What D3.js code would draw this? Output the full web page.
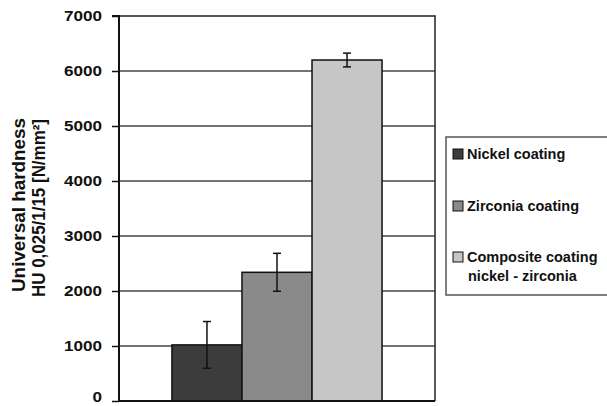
<!DOCTYPE html>
<html><head><meta charset="utf-8">
<script src="https://cdn.jsdelivr.net/npm/d3@7"></script>
<style>body{margin:0;background:#fff}svg{display:block}text{font-family:Arial,"Liberation Sans",sans-serif;font-weight:bold;fill:#111}</style>
</head><body><svg id="c" width="607" height="406"></svg>
<script>
const categories = [""];
const seriesNames = ["Nickel coating", "Zirconia coating", "Composite coating\nnickel - zirconia"];
const values = [1020, 2340, 6200];
const errors = [425, 345, 125];
const colors = ["#3c3c3c", "#8a8a8a", "#c6c6c6"];
const yTicks = [0, 1000, 2000, 3000, 4000, 5000, 6000, 7000];
const yTitle = ["Universal hardness", "HU 0,025/1/15 [N/mm²]"];

const svg = d3.select("#c");
const L = 119, R = 435, T = 16, B = 401;
const y = d3.scaleLinear().domain([0, 7000]).range([B, T]);
const x0 = d3.scaleBand().domain(categories).range([L, R]).paddingInner(0).paddingOuter(0.252);
const x1 = d3.scaleBand().domain(d3.range(values.length)).range([0, x0.bandwidth()]).padding(0);

// gridlines
svg.append("g").selectAll("line").data(yTicks.filter(d => d > 0)).join("line")
  .attr("x1", L).attr("x2", R).attr("y1", d => y(d)).attr("y2", d => y(d))
  .attr("stroke", d => d === 7000 ? "#222" : "#444").attr("stroke-width", 1.5);
// right border
svg.append("line").attr("x1", R).attr("x2", R).attr("y1", T - 0.75).attr("y2", B)
  .attr("stroke", "#222").attr("stroke-width", 1.5);

// bars
const g = svg.append("g").attr("transform", `translate(${x0(categories[0])},0)`);
g.selectAll("rect").data(values).join("rect")
  .attr("x", (d, i) => x1(i)).attr("width", x1.bandwidth())
  .attr("y", d => y(d)).attr("height", d => B - y(d))
  .attr("fill", (d, i) => colors[i]).attr("stroke", "#111").attr("stroke-width", 1.5);

// error bars
values.forEach((v, i) => {
  const cx = x1(i) + x1.bandwidth() / 2;
  const e = g.append("g").attr("stroke", "#111").attr("stroke-width", 1.5);
  e.append("line").attr("x1", cx).attr("x2", cx).attr("y1", y(v + errors[i])).attr("y2", y(v - errors[i]));
  [v + errors[i], v - errors[i]].forEach(t => e.append("line")
    .attr("x1", cx - 4).attr("x2", cx + 4).attr("y1", y(t)).attr("y2", y(t)));
});

// y axis
const ax = svg.append("g").attr("transform", `translate(${L},0)`)
  .call(d3.axisLeft(y).tickValues(yTicks).tickSize(7).tickPadding(10).tickFormat(d3.format("d")));
ax.select(".domain").attr("stroke", "#111").attr("stroke-width", 2).attr("d", `M-7,${T}H0V${B}H${R - L}`);
ax.selectAll(".tick line").attr("stroke", "#111").attr("stroke-width", 1.5);
ax.selectAll(".tick text").attr("font-size", 14).attr("font-family", "Arial, 'Liberation Sans', sans-serif")
  .attr("font-weight", "bold").attr("fill", "#111")
  .attr("textLength", d => String(d).length * 9.5).attr("lengthAdjust", "spacingAndGlyphs")
  .attr("dy", d => d === 0 ? "0.05em" : "0.32em");

// y title
const tl = [174, 178];
yTitle.forEach((t, i) => {
  svg.append("text").attr("transform", `translate(${25 + i * 20},${205 + i * 3}) rotate(-90)`)
    .attr("text-anchor", "middle").attr("font-size", 18)
    .attr("textLength", tl[i]).attr("lengthAdjust", "spacingAndGlyphs").text(t);
});

// legend
svg.append("rect").attr("x", 446).attr("y", 137).attr("width", 170).attr("height", 158)
  .attr("fill", "#fff").attr("stroke", "#555").attr("stroke-width", 1.5);
const ly = [154, 206, 257];
seriesNames.forEach((n, i) => {
  svg.append("rect").attr("x", 453).attr("y", ly[i] - 5).attr("width", 10).attr("height", 10)
    .attr("fill", colors[i]).attr("stroke", "#111").attr("stroke-width", 1);
  n.split("\n").forEach((line, j) => {
    svg.append("text").attr("x", 467 + (j ? 1 : 0)).attr("y", ly[i] + 5 + j * 19)
      .attr("font-size", 14.5).text(line);
  });
});
</script></body></html>
